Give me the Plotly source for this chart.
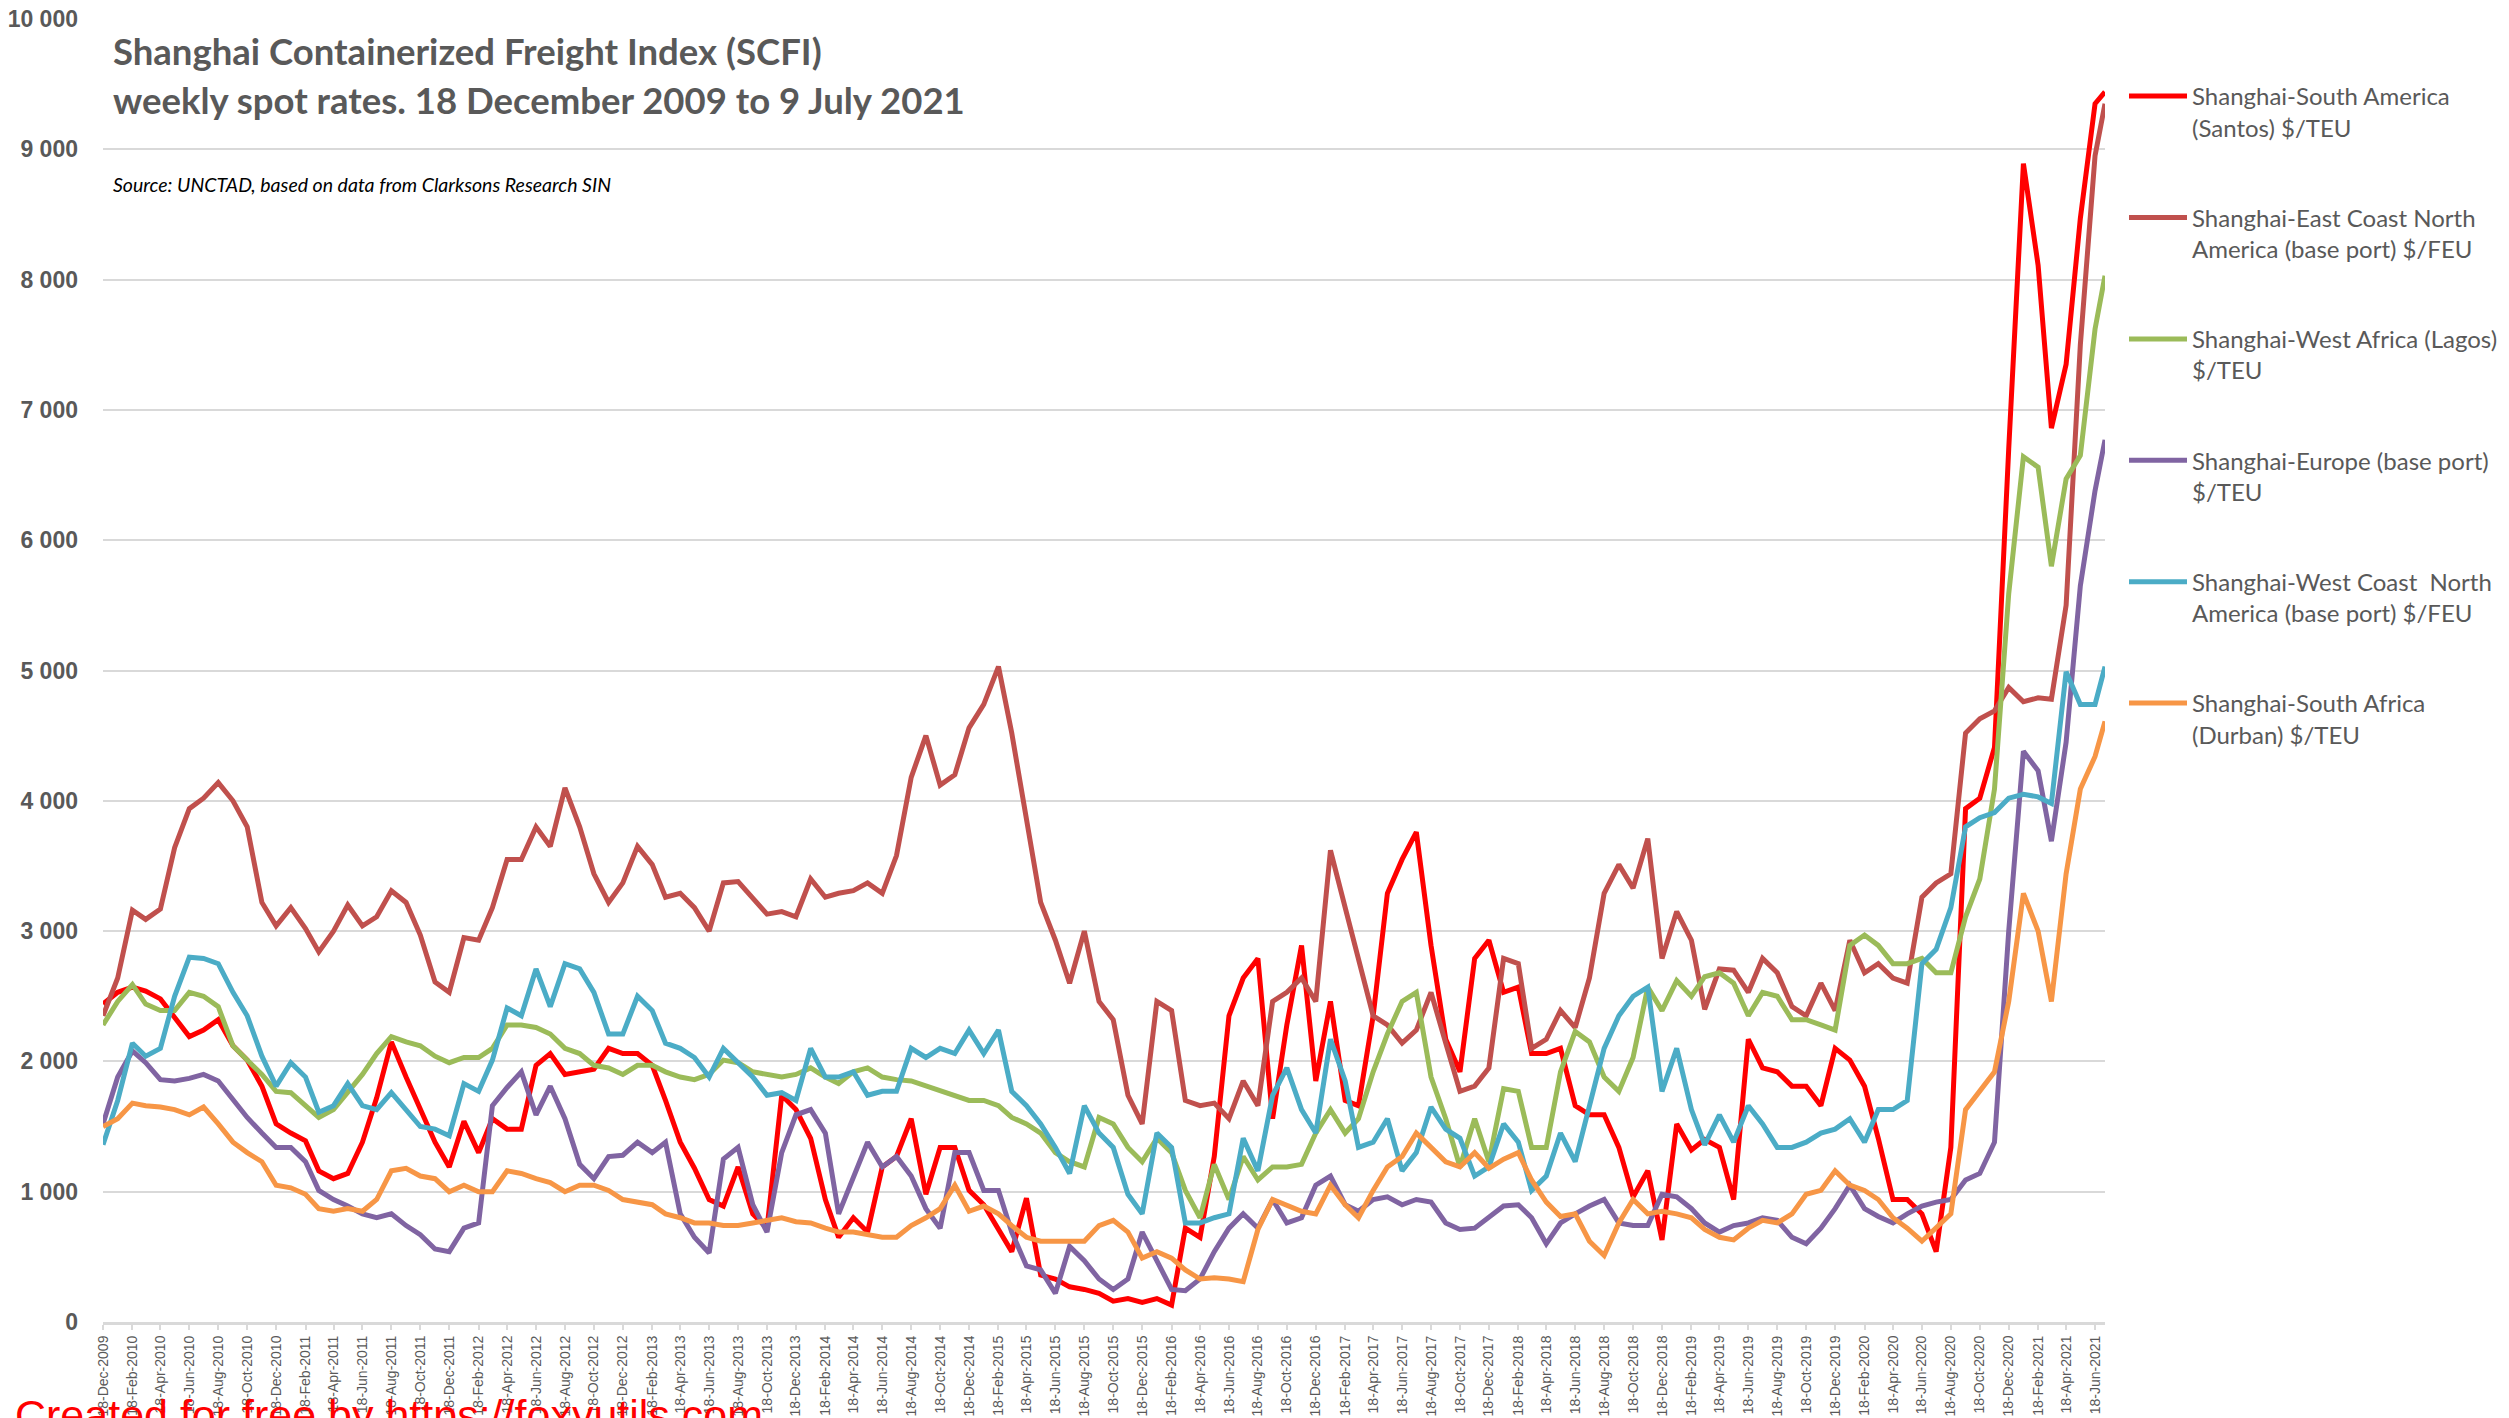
import plotly.graph_objects as go
import pandas as pd

# x categories: monthly sample dates (18th of each month) + last weekly date
dates = list(pd.date_range("2009-12-18", "2021-06-18",
                           freq=pd.DateOffset(months=1)).strftime("%Y-%m-%d")) + ["2021-07-09"]

series_names = [
    "Shanghai-South America<br>(Santos) $/TEU",
    "Shanghai-East Coast North<br>America (base port) $/FEU",
    "Shanghai-West Africa (Lagos)<br>$/TEU",
    "Shanghai-Europe (base port)<br>$/TEU",
    "Shanghai-West Coast  North<br>America (base port) $/FEU",
    "Shanghai-South Africa<br>(Durban) $/TEU",
]

south_america = [
    2440, 2530, 2570, 2540, 2480, 2330, 2190, 2240, 2320, 2120, 2010, 1810, 1520, 1450, 1390, 1160, 1100, 1140, 1380, 1720, 2150, 1880, 1630, 1380, 1190, 1540, 1300, 1560, 1480,
    1480, 1970, 2060, 1900, 1920, 1940, 2100, 2060, 2060, 1970, 1700, 1380, 1180, 940, 890, 1190, 830, 720, 1740, 1630, 1410, 940, 650, 800, 690, 1190, 1270, 1560,
    980, 1340, 1340, 1010, 900, 720, 540, 950, 360, 330, 270, 250, 220, 160, 180, 150, 180, 130, 720, 650, 1270, 2350, 2640, 2790, 1560, 2280, 2890,
    1850, 2460, 1700, 1660, 2350, 3290, 3550, 3760, 2890, 2170, 1920, 2790, 2930, 2530, 2570, 2060, 2060, 2100, 1660, 1590, 1590, 1340, 960, 1160, 630, 1520, 1320, 1400,
    1340, 940, 2170, 1950, 1920, 1810, 1810, 1660, 2100, 2010, 1810, 1410, 940, 940, 830, 540, 1340, 3940, 4020, 4410, 6700, 8890, 8110, 6860, 7350, 8470, 9350, 9440,
]

east_coast_na = [
    2350, 2640, 3160, 3090, 3170, 3640, 3940, 4020, 4140, 4000, 3800, 3220, 3040, 3180, 3020, 2840, 3000, 3200, 3040, 3110, 3310, 3220, 2970, 2610, 2530, 2950, 2930, 3180, 3550,
    3550, 3800, 3650, 4100, 3800, 3440, 3220, 3370, 3650, 3510, 3260, 3290, 3180, 3000, 3370, 3380, 3260, 3130, 3150, 3110, 3400, 3260, 3290, 3310, 3370, 3290, 3580, 4180,
    4500, 4120, 4200, 4560, 4740, 5030, 4520, 3840, 3220, 2930, 2600, 3000, 2460, 2320, 1740, 1520, 2460, 2390, 1700, 1660, 1680, 1560, 1850, 1660, 2460, 2530, 2640,
    2460, 3620, 3180, 2790, 2350, 2280, 2140, 2240, 2530, 2140, 1770, 1810, 1950, 2790, 2750, 2100, 2170, 2390, 2260, 2640, 3290, 3510, 3330, 3710, 2790, 3150, 2930, 2400,
    2710, 2700, 2530, 2790, 2680, 2420, 2350, 2600, 2390, 2930, 2680, 2750, 2640, 2600, 3260, 3370, 3440, 4520, 4630, 4690, 4870, 4760, 4790, 4780, 5500, 7500, 8950, 9350,
]

west_africa = [
    2280, 2460, 2590, 2440, 2390, 2390, 2530, 2500, 2420, 2120, 2010, 1900, 1770, 1760, 1660, 1570, 1630, 1770, 1900, 2060, 2190, 2150, 2120, 2040, 1990, 2030, 2030, 2100, 2280,
    2280, 2260, 2210, 2100, 2060, 1970, 1950, 1900, 1970, 1970, 1920, 1880, 1860, 1900, 2010, 1990, 1920, 1900, 1880, 1900, 1950, 1880, 1830, 1920, 1950, 1880, 1860, 1850,
    1810, 1770, 1740, 1700, 1700, 1660, 1570, 1520, 1450, 1300, 1230, 1190, 1570, 1520, 1340, 1230, 1410, 1300, 1010, 800, 1210, 940, 1270, 1090, 1190, 1190, 1210,
    1450, 1630, 1450, 1560, 1920, 2210, 2460, 2530, 1880, 1560, 1190, 1560, 1230, 1790, 1770, 1340, 1340, 1920, 2230, 2150, 1880, 1770, 2030, 2570, 2390, 2620, 2500, 2650,
    2680, 2600, 2350, 2530, 2500, 2320, 2320, 2280, 2240, 2890, 2970, 2890, 2750, 2750, 2790, 2680, 2680, 3110, 3400, 4090, 5590, 6640, 6560, 5800, 6470, 6650, 7620, 8030,
]

europe = [
    1520, 1880, 2080, 1990, 1860, 1850, 1870, 1900, 1850, 1700, 1570, 1450, 1340, 1340, 1230, 1010, 940, 890, 830, 800, 830, 740, 670, 560, 540, 720, 760, 1660, 1800,
    1920, 1590, 1810, 1560, 1210, 1100, 1270, 1280, 1380, 1300, 1380, 830, 650, 530, 1250, 1340, 900, 690, 1300, 1590, 1630, 1450, 830, 1120, 1380, 1190, 1270, 1120,
    870, 720, 1300, 1300, 1010, 1010, 690, 430, 400, 220, 580, 470, 330, 250, 330, 690, 470, 250, 240, 330, 540, 720, 830, 720, 940, 760, 800,
    1050, 1120, 900, 850, 940, 960, 900, 940, 920, 760, 710, 720, 800, 890, 900, 800, 600, 760, 830, 890, 940, 760, 740, 740, 980, 960, 870, 760,
    690, 740, 760, 800, 780, 650, 600, 720, 870, 1050, 870, 810, 760, 830, 890, 920, 940, 1090, 1140, 1380, 3000, 4380, 4230, 3690, 4450, 5650, 6380, 6770,
]

west_coast_na = [
    1360, 1700, 2140, 2040, 2100, 2500, 2800, 2790, 2750, 2530, 2350, 2040, 1810, 1990, 1880, 1610, 1660, 1830, 1660, 1630, 1760, 1630, 1500, 1480, 1430, 1830, 1770, 2010, 2410,
    2350, 2710, 2420, 2750, 2710, 2530, 2210, 2210, 2500, 2390, 2140, 2100, 2030, 1880, 2100, 1990, 1880, 1740, 1760, 1700, 2100, 1880, 1880, 1920, 1740, 1770, 1770, 2100,
    2030, 2100, 2060, 2240, 2060, 2240, 1770, 1660, 1520, 1340, 1140, 1660, 1450, 1340, 980, 830, 1450, 1340, 760, 760, 800, 830, 1410, 1160, 1740, 1950, 1630,
    1450, 2170, 1850, 1340, 1380, 1560, 1160, 1300, 1650, 1480, 1410, 1120, 1190, 1520, 1380, 1010, 1120, 1450, 1230, 1660, 2100, 2350, 2500, 2570, 1770, 2100, 1630, 1360,
    1590, 1380, 1660, 1520, 1340, 1340, 1380, 1450, 1480, 1560, 1380, 1630, 1630, 1700, 2750, 2860, 3180, 3800, 3870, 3910, 4020, 4050, 4030, 3980, 4990, 4740, 4740, 5030,
]

south_africa = [
    1500, 1560, 1680, 1660, 1650, 1630, 1590, 1650, 1520, 1380, 1300, 1230, 1050, 1030, 980, 870, 850, 870, 850, 940, 1160, 1180, 1120, 1100, 1000, 1050, 1000, 1000, 1160,
    1140, 1100, 1070, 1000, 1050, 1050, 1010, 940, 920, 900, 830, 800, 760, 760, 740, 740, 760, 780, 800, 770, 760, 720, 690, 690, 670, 650, 650, 740,
    800, 870, 1050, 850, 890, 830, 740, 650, 620, 620, 620, 620, 740, 780, 690, 490, 540, 490, 400, 330, 340, 330, 310, 710, 940, 900, 850,
    830, 1050, 900, 800, 1010, 1190, 1270, 1450, 1340, 1230, 1190, 1300, 1180, 1250, 1300, 1090, 920, 810, 830, 620, 510, 760, 940, 830, 850, 830, 800, 710,
    650, 630, 720, 780, 760, 830, 980, 1010, 1160, 1050, 1010, 940, 800, 720, 620, 720, 830, 1630, 1770, 1920, 2460, 3290, 3000, 2460, 3440, 4090, 4340, 4610,
]

colors = ["#FF0000", "#C0504D", "#9BBB59", "#8064A2", "#4BACC6", "#F79646"]
all_series = [south_america, east_coast_na, west_africa, europe, west_coast_na, south_africa]

for s in all_series:
    assert len(s) == len(dates), (len(s), len(dates))

fig = go.Figure()
for i, (name, vals, col) in enumerate(zip(series_names, all_series, colors)):
    fig.add_trace(go.Scatter(
        x=dates, y=vals, name=name, mode="lines",
        line=dict(color=col, width=5),
        legendgroup=f"g{i}",
    ))

# pixel geometry helpers
L, R, T, B = 103, 2105, 19, 1322
W, H = 2509, 1418
def px(x):
    return (x - L) / (R - L)
def py(y):
    return (B - y) / (B - T)

fig.update_layout(
    width=W, height=H,
    margin=dict(l=L, r=W - R, t=T, b=H - B, pad=0, autoexpand=False),
    paper_bgcolor="white", plot_bgcolor="white",
    separators=". ",
    font=dict(family="Liberation Sans, Arial", color="#595959"),
    showlegend=True,
    legend=dict(
        x=px(2124), y=py(74), xanchor="left", yanchor="top",
        font=dict(family="Lato", size=24, color="#595959"),
        itemwidth=58, valign="top", tracegroupgap=56,
        bgcolor="rgba(0,0,0,0)", borderwidth=0,
    ),
    xaxis=dict(
        type="date", automargin=False,
        range=["2009-12-18", "2021-07-09"],
        tick0="2009-12-18", dtick="M2", tickformat="%d-%b-%Y",
        tickangle=-90,
        tickfont=dict(family="Liberation Sans, Arial", size=14, color="#595959"),
        ticks="outside", ticklen=5, tickwidth=2, tickcolor="#d9d9d9",
        showline=True, linecolor="#d9d9d9", linewidth=3,
        showgrid=False, zeroline=False,
    ),
    yaxis=dict(
        automargin=False,
        range=[0, 10000], dtick=1000, tick0=0,
        tickformat=",.0f",
        tickfont=dict(family="Liberation Sans, Arial", size=23, color="#595959", weight="bold"),
        showgrid=True, gridcolor="#d9d9d9", gridwidth=2,
        zeroline=False, showline=False, ticks="",
        ticklabelstandoff=24,
    ),
)

annotations = [
    dict(text="<b>Shanghai Containerized Freight Index (SCFI)</b>",
         x=px(111), y=py(51), xanchor="left", yanchor="middle",
         font=dict(family="Lato", size=36.5, color="#595959")),
    dict(text="<b>weekly spot rates. 18 December 2009 to 9 July 2021</b>",
         x=px(111), y=py(100), xanchor="left", yanchor="middle",
         font=dict(family="Lato", size=36.5, color="#595959")),
    dict(text="<i>Source: UNCTAD, based on data from Clarksons Research SIN</i>",
         x=px(111), y=py(184), xanchor="left", yanchor="middle",
         font=dict(family="Lato", size=19.5, color="#000000")),
    dict(text="Created for free by https://foxyutils.com",
         x=px(13), y=py(1389), xanchor="left", yanchor="top",
         font=dict(family="Liberation Sans, Arial", size=43, color="#FF0000")),
]
for a in annotations:
    a.update(xref="paper", yref="paper", showarrow=False)
fig.update_layout(annotations=annotations)

fig.write_html("out.html", config={"displayModeBar": False},
               post_script="document.body.style.margin='0';document.body.style.overflow='hidden';")
